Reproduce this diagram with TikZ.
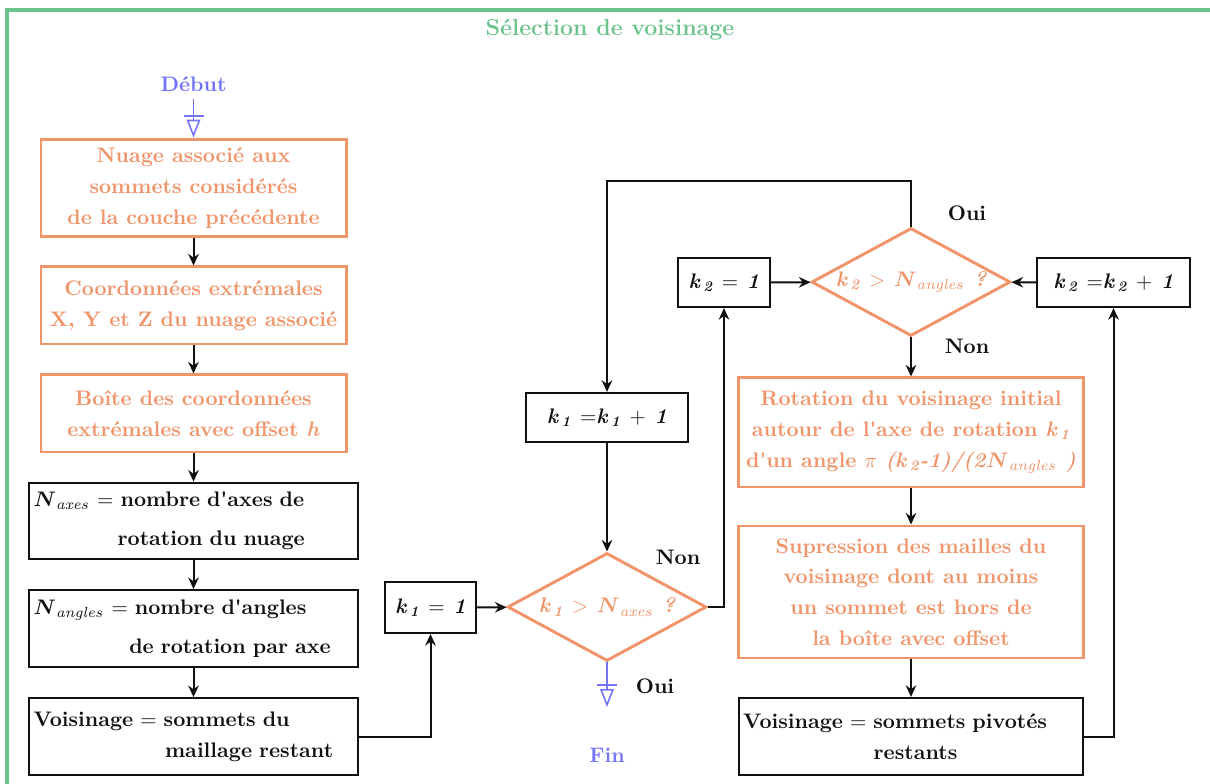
\documentclass[tikz,border=0pt]{standalone}
\usepackage{amsmath}
\usepackage{textcomp}
\usetikzlibrary{arrows.meta, shapes.geometric, positioning}
\definecolor{orangeline}{HTML}{F0946A}
\definecolor{startblue}{HTML}{7474F8}
\definecolor{greenframe}{HTML}{6CC48C}
\definecolor{darkline}{HTML}{111111}
\tikzset{
  card/.style={rectangle, align=center, line width=1.4pt,
               font=\linespread{1.22}\selectfont\bfseries, inner sep=2pt},
  orangebox/.style={card, draw=orangeline, text=orangeline},
  blackbox/.style={card, draw=darkline, text=darkline, line width=1pt},
  textbox/.style={blackbox, align=left, text width=152pt, minimum height=36.4pt},
  test/.style={diamond, aspect=1.84, draw=orangeline, text=orangeline,
               line width=1.4pt, inner sep=0pt, font=\bfseries\itshape,
               minimum width=94.5pt, minimum height=51.3pt},
  endpoint/.style={font=\bfseries, text=startblue},
  answer/.style={font=\bfseries, text=darkline},
  title/.style={font=\fontsize{11}{13}\selectfont\bfseries, text=greenframe},
  flow/.style={-{Stealth[length=5.5pt,width=5pt]}, line width=0.95pt, draw=darkline},
  term/.style={-{Bar[width=9.5pt,sep=1.5pt]Triangle[open,length=8.5pt,width=6.5pt]},
               line width=0.75pt, draw=startblue},
  frame/.style={draw=greenframe, line width=1.6pt},
}
\newcommand{\kidx}[1]{\textit{k}\,$_{\textit{#1}}$}
\newcommand{\Nidx}[1]{$\boldsymbol{N}_{\mathit{#1}}$}
\newcommand{\apos}{\textquotesingle}

\begin{document}
\begin{tikzpicture}[x=0.475pt, y=-0.475pt]
\useasboundingbox (0,0) rectangle (1210,784);

% Frame and title
\draw[frame] (7,784) -- (7,10) -- (1210,10);
\node[title] (title) at (610,30) {Sélection de voisinage};

% Left column: preparation
\node[endpoint] (start) at (193.5,84) {Début};
\node[orangebox, minimum width=144.9pt, minimum height=46.5pt] (cloud) at (193.5,188)
  {Nuage associé aux\\sommets considérés\\de la couche précédente};
\node[orangebox, minimum width=144.9pt, minimum height=36.6pt] (extrema) at (193.5,305.5)
  {Coordonnées extrémales\\X, Y et Z du nuage associé};
\node[orangebox, minimum width=144.9pt, minimum height=36.6pt] (bbox) at (193.5,413.5)
  {Boîte des coordonnées\\extrémales avec offset \textit{h}};
\node[textbox] (naxes) at (193.5,521)
  {\Nidx{axes} $=$ nombre d\apos axes de\\[4pt]\hspace*{40pt}rotation du nuage};
\node[textbox] (nangles) at (193.5,628.5)
  {\Nidx{angles} $=$ nombre d\apos angles\\[4pt]\hspace*{45.5pt}de rotation par axe};
\node[textbox] (remain) at (193.5,736.5)
  {Voisinage $=$ sommets du\\\hspace*{62.5pt}maillage restant};

% Outer loop over axes
\node[blackbox, minimum width=43.2pt, minimum height=24.2pt] (k1init) at (430.5,607.5)
  {\itshape\kidx{1} $=$ 1};
\node[test] (axischeck) at (607,607) {\kidx{1} $>$ \Nidx{axes} ?};
\node[blackbox, minimum width=77pt, minimum height=23.3pt] (k1next) at (607,417.5)
  {\itshape\kidx{1} $=$\kidx{1} $+$ 1};
\node[endpoint] (finish) at (607,755) {Fin};
\coordinate (finend) at (607,707);

% Inner loop over angles
\node[blackbox, minimum width=43.7pt, minimum height=23.3pt] (k2init) at (724,282.5)
  {\itshape\kidx{2} $=$ 1};
\node[test] (anglecheck) at (911,282) {\kidx{2} $>$ \Nidx{angles} ?};
\node[blackbox, minimum width=72.7pt, minimum height=23.3pt] (k2next) at (1113.5,282.5)
  {\itshape\kidx{2} $=$\kidx{2} $+$ 1};
\node[orangebox, minimum width=163.9pt, minimum height=51.8pt] (rotate) at (911,432.5)
  {Rotation du voisinage initial\\autour de l\apos axe de rotation \textit{\kidx{1}}\\
   d\apos un angle $\pi$ \textit{(\kidx{2}-1)/(2}\Nidx{angles}\textit{\ )}};
\node[orangebox, minimum width=163.9pt, minimum height=62.7pt] (prune) at (911,592)
  {Supression des mailles du\\voisinage dont au moins\\un sommet est hors de\\la boîte avec offset};
\node[textbox, text width=159.4pt, minimum height=36.6pt] (pivoted) at (911,736.5)
  {Voisinage $=$ sommets pivotés\\\hspace*{62pt}restants};

% Answers
\node[answer] (no1) at (678,557) {Non};
\node[answer] (yes1) at (655,686) {Oui};
\node[answer] (yes2) at (967,213) {Oui};
\node[answer] (no2) at (967,346) {Non};

% Flow
\draw[term] (start.south) -- (cloud.north);
\draw[flow] (cloud) -- (extrema);
\draw[flow] (extrema) -- (bbox);
\draw[flow] (bbox) -- (naxes);
\draw[flow] (naxes) -- (nangles);
\draw[flow] (nangles) -- (remain);
\draw[flow] (remain.east) -| (k1init.south);
\draw[flow] (k1init) -- (axischeck);
\draw[flow] (k1next) -- (axischeck);
\draw[term] (axischeck.south) -- (finend);
\draw[flow] (axischeck.east) -| (k2init.south);
\draw[flow] (k2init) -- (anglecheck);
\draw[flow] (k2next) -- (anglecheck);
\draw[flow] (anglecheck.north) -- ++(0,-46) -| (k1next.north);
\draw[flow] (anglecheck) -- (rotate);
\draw[flow] (rotate) -- (prune);
\draw[flow] (prune) -- (pivoted);
\draw[flow] (pivoted.east) -| (k2next.south);

\end{tikzpicture}
\end{document}
